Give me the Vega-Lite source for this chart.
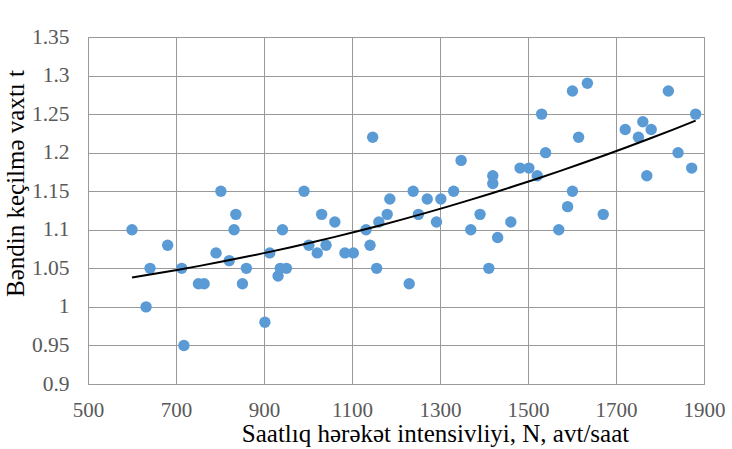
{
  "$schema": "https://vega.github.io/schema/vega-lite/v6.json",
  "width": 616,
  "height": 347,
  "autosize": "none",
  "padding": {"left": 88, "top": 37, "right": 28, "bottom": 65},
  "background": "white",
  "config": {
    "view": {"stroke": "#a6a6a6", "strokeWidth": 1},
    "font": "Liberation Serif, Times New Roman, DejaVu Serif, serif",
    "axis": {"labelFont": "Liberation Serif, Times New Roman, DejaVu Serif, serif", "titleFont": "Liberation Serif, Times New Roman, DejaVu Serif, serif"}
  },
  "data": {
    "values": [
      {"N": 600, "t": 1.10}, {"N": 632, "t": 1.00}, {"N": 641, "t": 1.05}, {"N": 681, "t": 1.08},
      {"N": 713, "t": 1.05}, {"N": 718, "t": 0.95}, {"N": 751, "t": 1.03}, {"N": 764, "t": 1.03},
      {"N": 791, "t": 1.07}, {"N": 802, "t": 1.15}, {"N": 821, "t": 1.06}, {"N": 832, "t": 1.10},
      {"N": 836, "t": 1.12}, {"N": 851, "t": 1.03}, {"N": 860, "t": 1.05}, {"N": 902, "t": 0.98},
      {"N": 913, "t": 1.07}, {"N": 932, "t": 1.04}, {"N": 937, "t": 1.05}, {"N": 942, "t": 1.10},
      {"N": 951, "t": 1.05}, {"N": 991, "t": 1.15}, {"N": 1002, "t": 1.08}, {"N": 1021, "t": 1.07},
      {"N": 1031, "t": 1.12}, {"N": 1041, "t": 1.08}, {"N": 1061, "t": 1.11}, {"N": 1084, "t": 1.07},
      {"N": 1103, "t": 1.07}, {"N": 1132, "t": 1.10}, {"N": 1141, "t": 1.08}, {"N": 1147, "t": 1.22},
      {"N": 1156, "t": 1.05}, {"N": 1161, "t": 1.11}, {"N": 1180, "t": 1.12}, {"N": 1186, "t": 1.14},
      {"N": 1230, "t": 1.03}, {"N": 1239, "t": 1.15}, {"N": 1251, "t": 1.12}, {"N": 1271, "t": 1.14},
      {"N": 1292, "t": 1.11}, {"N": 1302, "t": 1.14}, {"N": 1331, "t": 1.15}, {"N": 1348, "t": 1.19},
      {"N": 1370, "t": 1.10}, {"N": 1391, "t": 1.12}, {"N": 1411, "t": 1.05}, {"N": 1420, "t": 1.17},
      {"N": 1420, "t": 1.16}, {"N": 1431, "t": 1.09}, {"N": 1461, "t": 1.11}, {"N": 1482, "t": 1.18},
      {"N": 1502, "t": 1.18}, {"N": 1521, "t": 1.17}, {"N": 1531, "t": 1.25}, {"N": 1540, "t": 1.20},
      {"N": 1570, "t": 1.10}, {"N": 1590, "t": 1.13}, {"N": 1601, "t": 1.15}, {"N": 1601, "t": 1.28},
      {"N": 1615, "t": 1.22}, {"N": 1635, "t": 1.29}, {"N": 1671, "t": 1.12}, {"N": 1721, "t": 1.23},
      {"N": 1751, "t": 1.22}, {"N": 1761, "t": 1.24}, {"N": 1770, "t": 1.17}, {"N": 1780, "t": 1.23},
      {"N": 1819, "t": 1.28}, {"N": 1841, "t": 1.20}, {"N": 1872, "t": 1.18}, {"N": 1881, "t": 1.25}
    ]
  },
  "encoding": {
    "x": {
      "field": "N", "type": "quantitative",
      "scale": {"domain": [500, 1900], "nice": false, "zero": false},
      "axis": {
        "values": [500, 700, 900, 1100, 1300, 1500, 1700, 1900],
        "format": "d",
        "title": "Saatlıq hərəkət intensivliyi, N, avt/saat",
        "grid": true, "gridColor": "#999999", "gridWidth": 1,
        "domain": false, "ticks": false, "labelOverlap": false,
        "labelFontSize": 21, "labelColor": "#595959", "labelPadding": 15,
        "labelFlush": false,
        "titleFontSize": 25, "titleFontWeight": "normal", "titleColor": "#000000",
        "titleX": 347, "titleY": 57, "titleBaseline": "alphabetic", "titleAlign": "center"
      }
    },
    "y": {
      "field": "t", "type": "quantitative",
      "scale": {"domain": [0.9, 1.35], "nice": false, "zero": false},
      "axis": {
        "values": [0.9, 0.95, 1.0, 1.05, 1.1, 1.15, 1.2, 1.25, 1.3, 1.35],
        "format": "~g",
        "title": "Bəndin keçilmə vaxtı t",
        "grid": true, "gridColor": "#999999", "gridWidth": 1,
        "domain": false, "ticks": false, "labelOverlap": false,
        "labelFontSize": 21.5, "labelColor": "#595959", "labelPadding": 19,
        "labelFlush": false,
        "titleFontSize": 25, "titleFontWeight": "normal", "titleColor": "#000000",
        "titleX": -73, "titleY": 146, "titleBaseline": "middle", "titleAlign": "center", "titleAngle": -90
      }
    }
  },
  "layer": [
    {
      "mark": {"type": "circle", "size": 130, "color": "#5b9bd5", "opacity": 1}
    },
    {
      "transform": [{"regression": "t", "on": "N", "method": "poly", "order": 2}],
      "mark": {"type": "line", "color": "#000000", "strokeWidth": 2}
    }
  ]
}
